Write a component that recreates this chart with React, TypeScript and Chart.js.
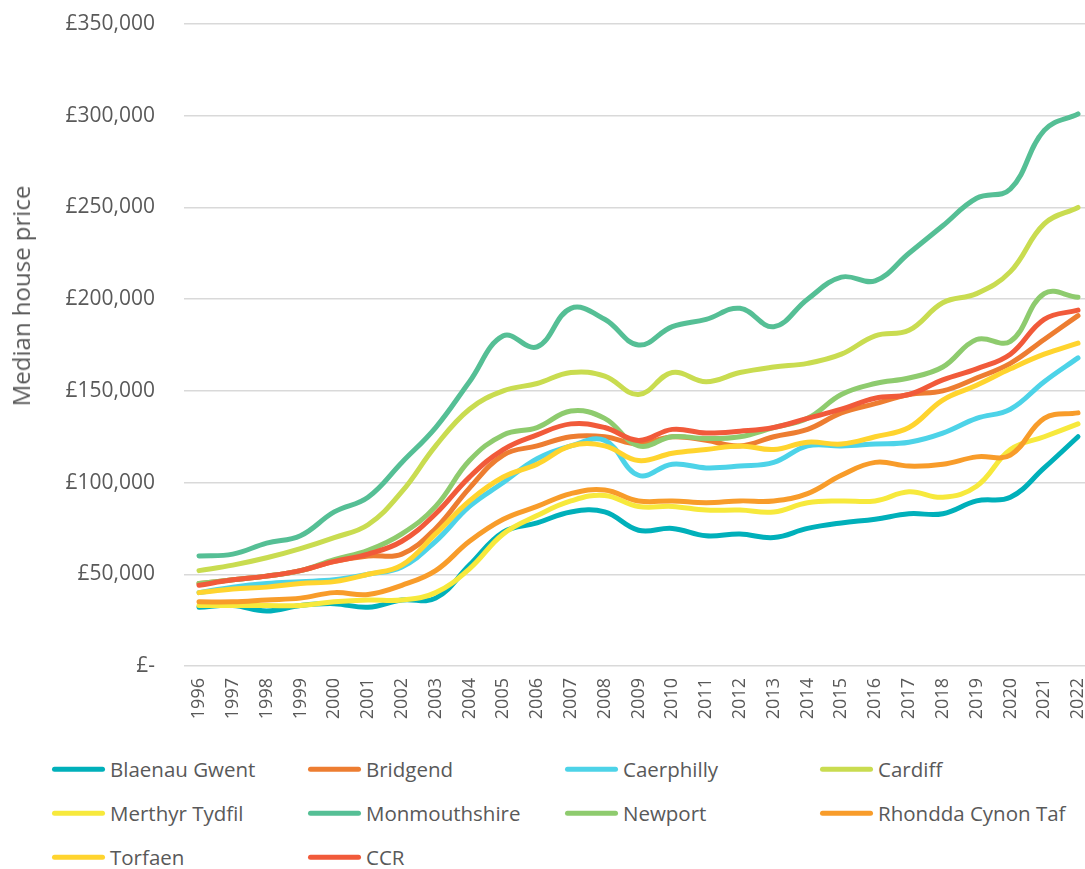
import React, { useEffect, useRef } from "react";
import { Chart, registerables } from "chart.js";

Chart.register(...registerables);

const YEARS = [1996, 1997, 1998, 1999, 2000, 2001, 2002, 2003, 2004, 2005, 2006, 2007, 2008, 2009, 2010, 2011, 2012, 2013, 2014, 2015, 2016, 2017, 2018, 2019, 2020, 2021, 2022];

const BLAENAU_GWENT = [32000, 33000, 30000, 33000, 34000, 32000, 36000, 37000, 55000, 73000, 78000, 84000, 84000, 74000, 75000, 71000, 72000, 70000, 75000, 78000, 80000, 83000, 83000, 90000, 92000, 108000, 125000];
const BRIDGEND = [45000, 47000, 49000, 52000, 57000, 60000, 61000, 75000, 97000, 115000, 120000, 125000, 125000, 121000, 125000, 123000, 120000, 125000, 129000, 138000, 143000, 148000, 150000, 157000, 165000, 178000, 191000];
const CAERPHILLY = [40000, 43000, 45000, 46000, 47000, 50000, 54000, 68000, 87000, 100000, 113000, 120000, 123000, 104000, 110000, 108000, 109000, 111000, 120000, 120000, 121000, 122000, 127000, 135000, 140000, 155000, 168000];
const CARDIFF = [52000, 55000, 59000, 64000, 70000, 77000, 95000, 120000, 140000, 150000, 154000, 160000, 158000, 148000, 160000, 155000, 160000, 163000, 165000, 170000, 180000, 183000, 198000, 203000, 215000, 241000, 250000];
const MERTHYR_TYDFIL = [33000, 33000, 33000, 33000, 35000, 36000, 36000, 40000, 53000, 72000, 82000, 90000, 93000, 87000, 87000, 85000, 85000, 84000, 89000, 90000, 90000, 95000, 92000, 98000, 118000, 125000, 132000];
const MONMOUTHSHIRE = [60000, 61000, 67000, 71000, 84000, 92000, 111000, 130000, 155000, 180000, 174000, 195000, 189000, 175000, 185000, 189000, 195000, 185000, 200000, 212000, 210000, 225000, 240000, 255000, 260000, 292000, 301000];
const NEWPORT = [45000, 47000, 49000, 52000, 58000, 63000, 72000, 87000, 112000, 126000, 130000, 139000, 135000, 120000, 125000, 124000, 125000, 130000, 135000, 148000, 154000, 157000, 163000, 178000, 177000, 203000, 201000];
const RHONDDA_CYNON_TAF = [35000, 35000, 36000, 37000, 40000, 39000, 44000, 52000, 68000, 80000, 87000, 94000, 96000, 90000, 90000, 89000, 90000, 90000, 94000, 104000, 111000, 109000, 110000, 114000, 115000, 135000, 138000];
const TORFAEN = [40000, 42000, 43000, 45000, 46000, 50000, 55000, 72000, 90000, 103000, 110000, 120000, 120000, 112000, 116000, 118000, 120000, 118000, 122000, 121000, 125000, 130000, 145000, 153000, 162000, 170000, 176000];
const CCR = [44000, 47000, 49000, 52000, 57000, 61000, 68000, 83000, 103000, 118000, 126000, 132000, 130000, 123000, 129000, 127000, 128000, 130000, 135000, 140000, 146000, 148000, 156000, 162000, 170000, 189000, 194000];

const SERIES_NAMES = ["Blaenau Gwent", "Bridgend", "Caerphilly", "Cardiff", "Merthyr Tydfil", "Monmouthshire", "Newport", "Rhondda Cynon Taf", "Torfaen", "CCR"];
const SERIES_VALUES = [BLAENAU_GWENT, BRIDGEND, CAERPHILLY, CARDIFF, MERTHYR_TYDFIL, MONMOUTHSHIRE, NEWPORT, RHONDDA_CYNON_TAF, TORFAEN, CCR];
const SERIES_COLORS = ["#00B0BA", "#ED7D31", "#4DD3E8", "#C9DC50", "#F7E93C", "#55BF95", "#8ECB6E", "#F89C2A", "#FFD42E", "#F15A3A"];

const Y_TITLE = "Median house price";
const Y_MAX = 350000;
const Y_STEP = 50000;

const TEXT_COLOR = "#595959";
const FONT = "'Open Sans', 'DejaVu Sans', sans-serif";

export default function App() {
  const canvasRef = useRef<HTMLCanvasElement>(null);

  useEffect(() => {
    const canvas = canvasRef.current;
    if (!canvas) return;
    const n = SERIES_NAMES.length;
    const chart = new Chart(canvas, {
      type: "line",
      data: {
        datasets: SERIES_NAMES.map((name, i) => ({
          label: name,
          data: YEARS.map((yr, j) => ({ x: yr, y: SERIES_VALUES[i][j] })),
          borderColor: SERIES_COLORS[i],
          backgroundColor: SERIES_COLORS[i],
          borderWidth: 5,
          pointRadius: 0,
          pointHoverRadius: 0,
          tension: 0.4,
          fill: false,
          borderCapStyle: "round",
          borderJoinStyle: "round",
          order: n - i,
        })),
      },
      options: {
        responsive: false,
        animation: false,
        events: [],
        layout: { padding: { top: 24, left: 0, right: 0, bottom: 0 } },
        plugins: {
          legend: { display: false },
          tooltip: { enabled: false },
        },
        scales: {
          x: {
            type: "linear",
            min: 1995.5563,
            max: 2022.6507,
            afterBuildTicks: (s: any) => {
              s.ticks = YEARS.map((v) => ({ value: v }));
            },
            afterFit: (s: any) => {
              s.height = 79;
              s.paddingLeft = 0;
              s.paddingRight = 0;
              s.paddingTop = 0;
              s.paddingBottom = 0;
            },
            ticks: {
              autoSkip: false,
              minRotation: 90,
              maxRotation: 90,
              callback: (v: any) => String(v),
              font: { family: FONT, size: 18 },
              color: TEXT_COLOR,
              padding: 12,
            },
            grid: { display: false, drawTicks: false },
            border: { display: false },
          },
          y: {
            min: 0,
            max: Y_MAX,
            afterFit: (s: any) => {
              s.width = 184;
              s.paddingTop = 0;
              s.paddingBottom = 0;
              s.paddingLeft = 0;
              s.paddingRight = 0;
            },
            ticks: {
              stepSize: Y_STEP,
              callback: (v: any) => (Number(v) === 0 ? "£-" : "£" + Number(v).toLocaleString("en-GB")),
              font: { family: FONT, size: 21 },
              color: TEXT_COLOR,
              padding: 29,
            },
            grid: { color: "#D9D9D9", lineWidth: 1.5, drawTicks: false },
            border: { display: false },
          },
        },
      },
    });
    return () => chart.destroy();
  }, []);

  const COL_X = [52, 308, 565, 820];
  const ROW_Y = [769, 813, 857];

  return (
    <div
      style={{
        position: "absolute",
        left: 0,
        top: 0,
        width: 1085,
        height: 869,
        overflow: "hidden",
        background: "#ffffff",
        fontFamily: FONT,
      }}
    >
      <canvas ref={canvasRef} width={1100} height={745} style={{ position: "absolute", left: 0, top: 0, width: 1100, height: 745 }} />
      <div
        style={{
          position: "absolute",
          left: 21,
          top: 296,
          transform: "translate(-50%, -50%) rotate(-90deg)",
          whiteSpace: "nowrap",
          color: TEXT_COLOR,
          fontSize: 24,
          lineHeight: 1,
        }}
      >
        {Y_TITLE}
      </div>
      {SERIES_NAMES.map((name, i) => (
        <div
          key={name}
          style={{
            position: "absolute",
            left: COL_X[i % 4],
            top: ROW_Y[Math.floor(i / 4)],
            transform: "translateY(-50%)",
            display: "flex",
            alignItems: "center",
            whiteSpace: "nowrap",
            color: TEXT_COLOR,
            fontSize: 20.5,
            lineHeight: 1,
          }}
        >
          <span
            style={{
              display: "inline-block",
              width: 53,
              height: 5,
              borderRadius: 3,
              background: SERIES_COLORS[i],
              marginRight: 5,
            }}
          />
          <span>{name}</span>
        </div>
      ))}
    </div>
  );
}
